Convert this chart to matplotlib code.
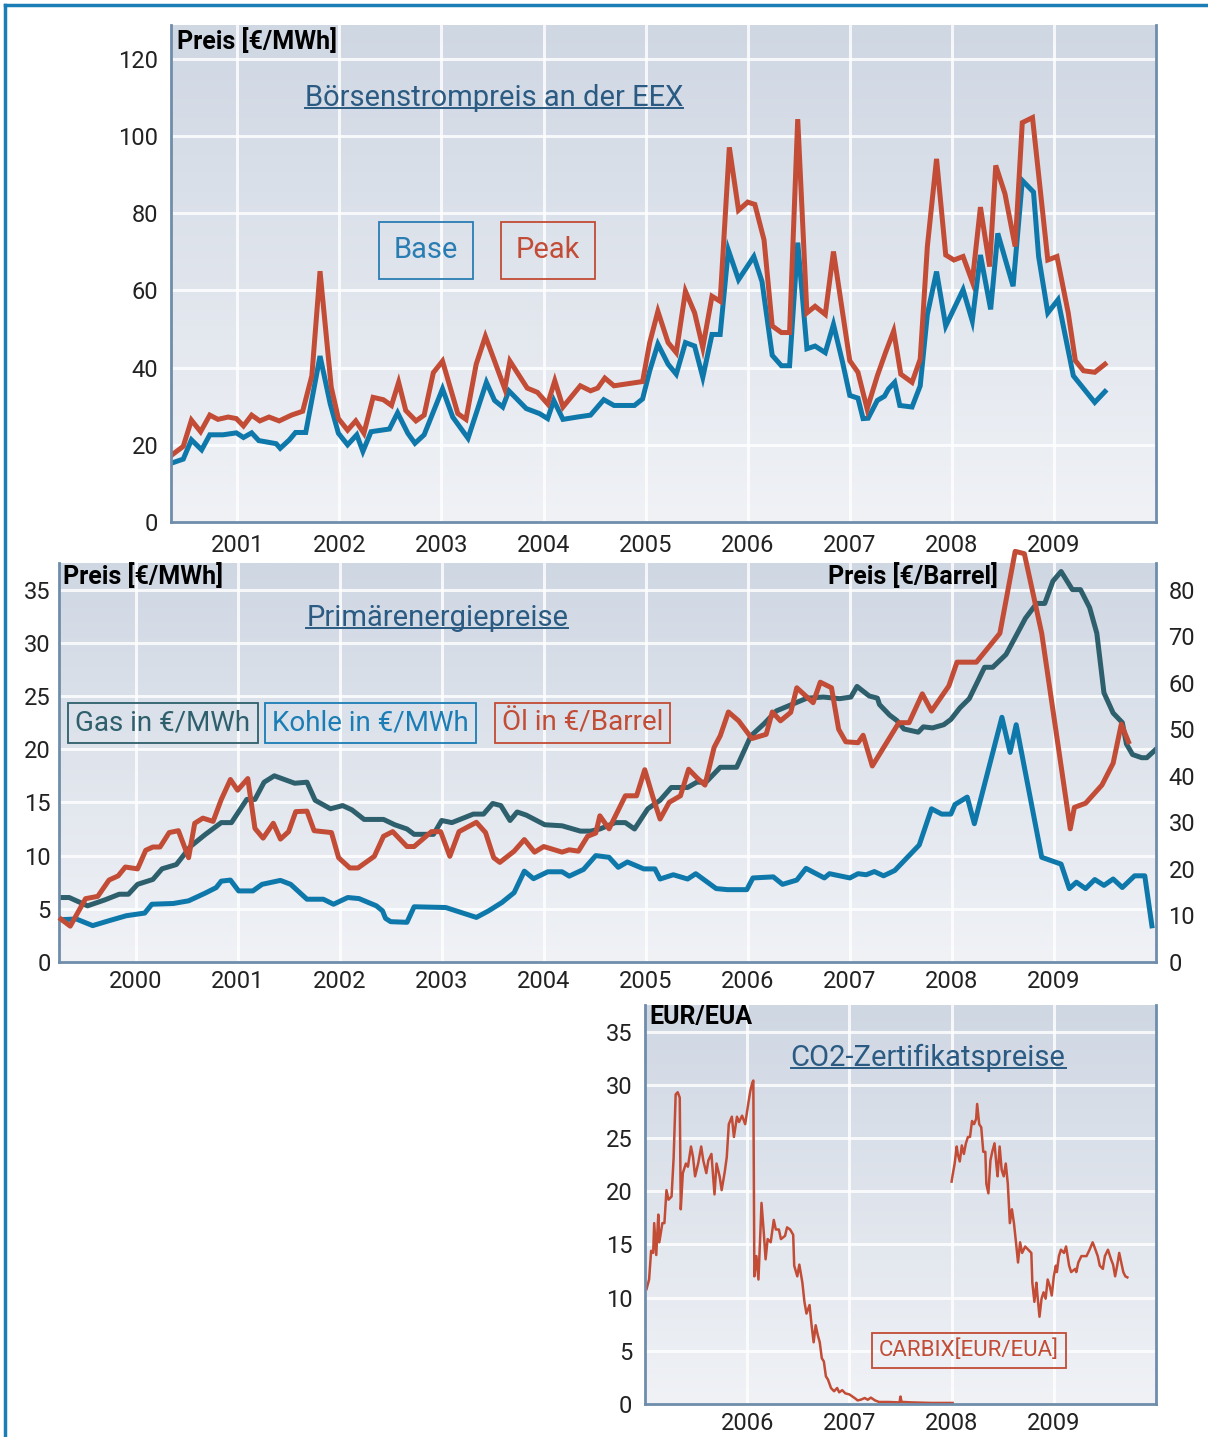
import numpy as np
import matplotlib.pyplot as plt
from matplotlib.lines import Line2D
from matplotlib.colors import LinearSegmentedColormap

plt.rcParams['font.family'] = ['Roboto', 'DejaVu Sans']

# ---------------- Daten: Börsenstrompreis an der EEX ----------------
base_t = [2000.36, 2000.47, 2000.55, 2000.65, 2000.73, 2000.86, 2000.99, 2001.06, 2001.14, 2001.21,
          2001.38, 2001.42, 2001.51, 2001.57, 2001.67, 2001.81, 2001.91, 2001.99, 2002.08, 2002.17,
          2002.23, 2002.31, 2002.49, 2002.57, 2002.67, 2002.74, 2002.83, 2003.01, 2003.11, 2003.26,
          2003.44, 2003.52, 2003.60, 2003.66, 2003.83, 2003.96, 2004.04, 2004.10, 2004.19, 2004.33,
          2004.46, 2004.59, 2004.69, 2004.89, 2004.97, 2005.04, 2005.12, 2005.22, 2005.30, 2005.39,
          2005.48, 2005.56, 2005.65, 2005.73, 2005.81, 2005.91, 2006.06, 2006.14, 2006.24, 2006.33,
          2006.41, 2006.49, 2006.58, 2006.66, 2006.76, 2006.84, 2006.93, 2007.00, 2007.08, 2007.13,
          2007.18, 2007.27, 2007.34, 2007.38, 2007.44, 2007.49, 2007.61, 2007.69, 2007.76, 2007.85,
          2007.94, 2008.11, 2008.20, 2008.28, 2008.38, 2008.45, 2008.60, 2008.69, 2008.80, 2008.85,
          2008.94, 2009.04, 2009.19, 2009.40, 2009.50]
base_v = [15.3, 16.3, 21.3, 18.7, 22.6, 22.6, 23.1, 21.9, 23.1, 21.1,
          20.3, 19.1, 21.3, 23.2, 23.2, 43.0, 30.6, 23.0, 20.0, 22.6,
          18.3, 23.4, 24.1, 28.3, 23.0, 20.4, 22.6, 34.5, 27.2, 21.7,
          36.2, 31.5, 29.8, 34.0, 29.4, 28.1, 26.8, 31.5, 26.6, 27.2,
          27.7, 31.7, 30.2, 30.2, 31.9, 39.2, 46.1, 40.9, 38.3, 46.5,
          45.6, 37.5, 48.6, 48.6, 70.5, 62.8, 68.8, 62.3, 43.2, 40.5,
          40.5, 72.4, 44.9, 45.6, 43.9, 51.2, 41.3, 32.8, 32.1, 26.8,
          26.9, 31.5, 32.6, 34.5, 36.2, 30.2, 29.8, 35.3, 53.8, 64.9,
          50.8, 60.2, 52.1, 69.2, 55.1, 74.8, 61.1, 88.5, 85.5, 68.8,
          54.2, 57.6, 37.9, 31.0, 33.8]

peak_t = [2000.36, 2000.47, 2000.55, 2000.64, 2000.73, 2000.81, 2000.91, 2000.99, 2001.06, 2001.14,
          2001.22, 2001.31, 2001.41, 2001.53, 2001.64, 2001.73, 2001.81, 2001.92, 2001.99, 2002.08,
          2002.16, 2002.24, 2002.33, 2002.43, 2002.51, 2002.58, 2002.65, 2002.75, 2002.83, 2002.92,
          2003.01, 2003.16, 2003.24, 2003.34, 2003.43, 2003.52, 2003.62, 2003.67, 2003.84, 2003.94,
          2004.04, 2004.11, 2004.19, 2004.36, 2004.46, 2004.53, 2004.60, 2004.69, 2004.97, 2005.04,
          2005.12, 2005.22, 2005.30, 2005.39, 2005.48, 2005.56, 2005.65, 2005.73, 2005.82, 2005.91,
          2006.00, 2006.07, 2006.16, 2006.24, 2006.33, 2006.41, 2006.49, 2006.58, 2006.66, 2006.76,
          2006.84, 2007.00, 2007.08, 2007.17, 2007.27, 2007.35, 2007.43, 2007.50, 2007.61, 2007.69,
          2007.76, 2007.85, 2007.94, 2008.02, 2008.11, 2008.20, 2008.28, 2008.37, 2008.43, 2008.52,
          2008.62, 2008.69, 2008.79, 2008.94, 2009.03, 2009.14, 2009.21, 2009.29, 2009.40, 2009.50]
peak_v = [17.4, 19.6, 26.4, 23.4, 27.7, 26.6, 27.2, 26.8, 24.9, 27.7,
          26.2, 27.2, 26.2, 27.7, 28.7, 37.9, 65.0, 34.9, 26.8, 23.8,
          26.2, 23.0, 32.3, 31.7, 30.2, 36.2, 28.9, 26.2, 27.7, 38.7,
          41.7, 28.1, 26.6, 40.9, 48.1, 41.7, 34.5, 41.7, 34.7, 33.6,
          30.6, 36.6, 29.8, 35.3, 34.0, 34.7, 37.3, 35.3, 36.4, 46.5,
          54.6, 46.5, 43.9, 59.8, 54.2, 45.2, 58.5, 57.2, 97.1, 80.8,
          82.9, 82.3, 73.1, 50.8, 49.1, 49.1, 104.4, 54.2, 55.9, 53.8,
          70.1, 41.8, 38.8, 29.3, 37.9, 43.9, 49.5, 38.3, 36.2, 42.2,
          71.4, 94.1, 69.2, 67.9, 68.8, 62.3, 81.6, 66.2, 92.4, 85.1,
          71.4, 103.5, 104.8, 67.9, 68.8, 54.2, 41.8, 39.2, 38.8, 40.9]

# ---------------- Daten: Primärenergiepreise ----------------
gas_t = [1999.27, 1999.35, 1999.53, 1999.70, 1999.84, 1999.93, 2000.02, 2000.17, 2000.26, 2000.40,
         2000.54, 2000.68, 2000.84, 2000.94, 2001.09, 2001.17, 2001.26, 2001.36, 2001.56, 2001.68,
         2001.76, 2001.91, 2002.03, 2002.12, 2002.24, 2002.43, 2002.54, 2002.66, 2002.73, 2002.92,
         2003.00, 2003.10, 2003.31, 2003.41, 2003.50, 2003.58, 2003.67, 2003.74, 2003.83, 2004.01,
         2004.18, 2004.36, 2004.46, 2004.55, 2004.70, 2004.80, 2004.89, 2005.02, 2005.14, 2005.25,
         2005.41, 2005.50, 2005.59, 2005.73, 2005.89, 2006.03, 2006.16, 2006.28, 2006.43, 2006.58,
         2006.74, 2006.90, 2007.01, 2007.07, 2007.19, 2007.27, 2007.29, 2007.39, 2007.46, 2007.53,
         2007.67, 2007.72, 2007.81, 2007.92, 2007.99, 2008.08, 2008.17, 2008.32, 2008.40, 2008.53,
         2008.62, 2008.72, 2008.83, 2008.91, 2008.99, 2009.07, 2009.18, 2009.26, 2009.35, 2009.42,
         2009.49, 2009.58, 2009.67, 2009.71, 2009.77, 2009.86, 2009.91, 2010.00]
gas_v = [6.06, 6.06, 5.28, 5.84, 6.37, 6.37, 7.3, 7.76, 8.76, 9.16,
         10.87, 11.96, 13.1, 13.1, 15.28, 15.28, 16.9, 17.5, 16.8, 16.9,
         15.2, 14.4, 14.7, 14.3, 13.4, 13.4, 12.9, 12.5, 12.0, 12.0,
         13.3, 13.1, 13.9, 13.9, 14.9, 14.7, 13.3, 14.1, 13.8, 12.9,
         12.8, 12.3, 12.3, 12.5, 13.1, 13.1, 12.5, 14.4, 15.2, 16.4,
         16.4, 16.9, 16.9, 18.3, 18.3, 21.25, 22.4, 23.6, 24.2, 24.8,
         24.9, 24.75, 24.9, 25.9, 25.0, 24.8, 24.2, 23.2, 22.7, 21.9,
         21.6, 22.1, 22.0, 22.3, 22.8, 23.9, 24.75, 27.7, 27.7, 28.9,
         30.5, 32.3, 33.7, 33.7, 35.8, 36.7, 35.0, 35.0, 33.3, 30.9,
         25.3, 23.4, 22.5, 20.5, 19.5, 19.2, 19.2, 20.0]

kohle_t = [1999.27, 1999.42, 1999.58, 1999.74, 1999.91, 2000.09, 2000.16, 2000.37, 2000.52, 2000.68,
           2000.79, 2000.84, 2000.93, 2001.01, 2001.15, 2001.24, 2001.42, 2001.52, 2001.68, 2001.84,
           2001.94, 2002.08, 2002.19, 2002.36, 2002.42, 2002.45, 2002.50, 2002.66, 2002.73, 2003.04,
           2003.34, 2003.46, 2003.59, 2003.71, 2003.81, 2003.90, 2004.04, 2004.18, 2004.25, 2004.39,
           2004.51, 2004.64, 2004.73, 2004.82, 2004.98, 2005.09, 2005.14, 2005.27, 2005.41, 2005.49,
           2005.69, 2005.80, 2005.99, 2006.05, 2006.25, 2006.34, 2006.48, 2006.57, 2006.75, 2006.80,
           2007.00, 2007.08, 2007.16, 2007.24, 2007.33, 2007.44, 2007.56, 2007.68, 2007.80, 2007.90,
           2007.99, 2008.03, 2008.15, 2008.22, 2008.49, 2008.57, 2008.63, 2008.88, 2009.07, 2009.15,
           2009.22, 2009.31, 2009.40, 2009.49, 2009.58, 2009.67, 2009.79, 2009.89, 2009.96]
kohle_v = [3.98, 4.04, 3.42, 3.88, 4.35, 4.6, 5.43, 5.5, 5.75, 6.46,
           6.99, 7.6, 7.7, 6.68, 6.68, 7.3, 7.67, 7.3, 5.9, 5.9,
           5.43, 6.06, 5.96, 5.28, 4.81, 4.1, 3.79, 3.73, 5.19, 5.12,
           4.19, 4.81, 5.59, 6.52, 8.54, 7.83, 8.48, 8.48, 8.07, 8.7,
           10.0, 9.84, 8.9, 9.4, 8.75, 8.75, 7.8, 8.2, 7.8, 8.3,
           6.9, 6.8, 6.8, 7.9, 8.0, 7.3, 7.7, 8.8, 7.9, 8.3,
           7.9, 8.3, 8.2, 8.5, 8.1, 8.6, 9.8, 11.0, 14.4, 13.9,
           13.9, 14.8, 15.5, 13.0, 23.0, 19.7, 22.3, 9.84, 9.2, 6.9,
           7.5, 6.9, 7.75, 7.2, 7.8, 7.0, 8.1, 8.1, 3.4]

oel_t = [1999.27, 1999.36, 1999.51, 1999.63, 1999.74, 1999.83, 1999.90, 2000.02, 2000.10, 2000.17,
         2000.24, 2000.33, 2000.42, 2000.52, 2000.58, 2000.66, 2000.76, 2000.84, 2000.93, 2001.00,
         2001.10, 2001.17, 2001.25, 2001.35, 2001.42, 2001.50, 2001.57, 2001.68, 2001.75, 2001.92,
         2001.99, 2002.10, 2002.18, 2002.34, 2002.43, 2002.52, 2002.66, 2002.73, 2002.90, 2002.99,
         2003.08, 2003.17, 2003.34, 2003.43, 2003.51, 2003.57, 2003.71, 2003.81, 2003.91, 2004.00,
         2004.18, 2004.25, 2004.34, 2004.43, 2004.51, 2004.55, 2004.64, 2004.80, 2004.91, 2004.99,
         2005.07, 2005.14, 2005.23, 2005.34, 2005.42, 2005.50, 2005.58, 2005.67, 2005.73, 2005.81,
         2005.91, 2006.04, 2006.18, 2006.24, 2006.32, 2006.42, 2006.48, 2006.64, 2006.71, 2006.82,
         2006.89, 2006.96, 2007.08, 2007.13, 2007.22, 2007.48, 2007.58, 2007.71, 2007.80, 2007.97,
         2008.05, 2008.24, 2008.47, 2008.62, 2008.71, 2008.88, 2009.16, 2009.20, 2009.31, 2009.47,
         2009.58, 2009.66, 2009.73]
oel_v = [9.2, 7.7, 13.6, 14.1, 17.6, 18.5, 20.4, 20.0, 24.0, 24.7,
         24.7, 27.8, 28.2, 22.4, 29.8, 30.9, 30.2, 34.9, 39.2, 36.9,
         39.4, 28.7, 26.6, 29.8, 26.4, 28.0, 32.3, 32.4, 28.2, 27.8,
         22.4, 20.2, 20.2, 22.7, 27.0, 28.0, 24.8, 24.8, 28.0, 28.0,
         22.7, 28.0, 30.0, 27.8, 22.4, 21.4, 23.8, 26.3, 23.6, 24.8,
         23.6, 24.1, 23.8, 27.0, 27.7, 31.4, 28.6, 35.7, 35.7, 41.3,
         35.4, 30.7, 34.3, 35.7, 41.4, 39.6, 38.0, 46.1, 48.6, 53.7,
         51.8, 48.0, 48.9, 53.7, 51.8, 53.6, 58.9, 55.7, 60.1, 58.9,
         50.0, 47.3, 47.1, 48.7, 42.1, 51.4, 51.4, 57.6, 53.9, 59.3,
         64.4, 64.4, 70.6, 88.2, 87.7, 70.6, 28.6, 33.2, 34.1, 38.0,
         42.7, 51.1, 47.3]

# ---------------- Daten: CO2-Zertifikatspreise (CARBIX) ----------------
co2_t1 = [2005.015, 2005.04, 2005.06, 2005.08, 2005.09, 2005.11, 2005.13, 2005.14, 2005.17, 2005.19,
          2005.21, 2005.23, 2005.26, 2005.28, 2005.30, 2005.32, 2005.34, 2005.35, 2005.37, 2005.40,
          2005.42, 2005.45, 2005.47, 2005.49, 2005.52, 2005.55, 2005.57, 2005.60, 2005.62, 2005.65,
          2005.68, 2005.70, 2005.73, 2005.75, 2005.78, 2005.80, 2005.82, 2005.85, 2005.87, 2005.90,
          2005.92, 2005.95, 2005.98, 2006.01, 2006.03, 2006.05, 2006.06, 2006.07, 2006.09, 2006.11,
          2006.13, 2006.14, 2006.16, 2006.18, 2006.20, 2006.23, 2006.26, 2006.28, 2006.31, 2006.33,
          2006.37, 2006.39, 2006.42, 2006.45, 2006.46, 2006.49, 2006.51, 2006.54, 2006.56, 2006.58,
          2006.61, 2006.63, 2006.65, 2006.67, 2006.69, 2006.71, 2006.73, 2006.75, 2006.77, 2006.79,
          2006.82, 2006.85, 2006.88, 2006.90, 2006.93, 2006.96, 2007.00, 2007.03, 2007.06, 2007.08,
          2007.11, 2007.15, 2007.18, 2007.21, 2007.25, 2007.29, 2007.38, 2007.49, 2007.50, 2007.51,
          2007.61, 2007.80, 2008.01]
co2_v1 = [10.8, 11.7, 14.4, 14.2, 17.0, 14.0, 17.8, 15.2, 17.0, 17.0,
          20.1, 19.2, 19.5, 23.1, 29.1, 29.3, 28.8, 18.3, 21.7, 22.6,
          22.3, 24.2, 23.2, 21.4, 22.6, 24.2, 22.9, 21.7, 22.9, 23.5,
          19.7, 22.6, 21.4, 20.1, 21.8, 23.2, 26.3, 27.0, 25.1, 27.0,
          26.5, 27.1, 26.3, 28.2, 29.4, 30.2, 30.4, 12.0, 13.9, 11.7,
          16.4, 18.9, 16.4, 13.6, 15.5, 15.2, 17.3, 16.4, 16.4, 15.5,
          15.8, 16.6, 16.4, 15.9, 13.0, 12.0, 13.1, 11.4, 9.6, 8.5,
          9.3, 7.4, 5.8, 7.4, 6.5, 5.8, 4.3, 4.0, 2.6, 2.3,
          1.5, 1.2, 1.5, 1.1, 1.3, 1.0, 0.9, 0.7, 0.5, 0.34,
          0.4, 0.56, 0.4, 0.6, 0.34, 0.19, 0.19, 0.15, 0.7, 0.2,
          0.15, 0.1, 0.1]

co2_t2 = [2008.00, 2008.01, 2008.03, 2008.05, 2008.06, 2008.08, 2008.10, 2008.12, 2008.14, 2008.16,
          2008.18, 2008.20, 2008.22, 2008.24, 2008.25, 2008.27, 2008.29, 2008.31, 2008.33, 2008.34,
          2008.36, 2008.38, 2008.40, 2008.42, 2008.44, 2008.45, 2008.47, 2008.49, 2008.51, 2008.53,
          2008.55, 2008.57, 2008.59, 2008.61, 2008.63, 2008.65, 2008.67, 2008.69, 2008.72, 2008.75,
          2008.78, 2008.79, 2008.81, 2008.83, 2008.84, 2008.86, 2008.88, 2008.90, 2008.92, 2008.94,
          2008.96, 2008.98, 2009.00, 2009.02, 2009.03, 2009.05, 2009.07, 2009.10, 2009.12, 2009.15,
          2009.17, 2009.21, 2009.22, 2009.24, 2009.27, 2009.29, 2009.32, 2009.35, 2009.38, 2009.40,
          2009.43, 2009.45, 2009.48, 2009.50, 2009.53, 2009.56, 2009.58, 2009.60, 2009.62, 2009.64,
          2009.66, 2009.68, 2009.70, 2009.72]
co2_v2 = [20.9, 21.5, 22.6, 24.2, 23.5, 22.8, 24.3, 23.5, 24.5, 25.1,
          25.1, 26.6, 26.3, 26.8, 28.2, 26.3, 26.0, 23.7, 23.7, 20.7,
          19.8, 22.9, 23.8, 24.5, 22.3, 21.4, 24.2, 22.0, 21.4, 22.6,
          20.7, 17.0, 18.3, 17.0, 15.2, 13.3, 15.2, 14.2, 14.8, 14.5,
          14.2, 11.4, 9.6, 11.4, 10.2, 8.2, 9.9, 10.5, 9.9, 11.7,
          11.1, 10.2, 12.0, 13.0, 12.4, 13.9, 14.5, 14.2, 14.8, 13.0,
          12.4, 12.7, 12.4, 13.3, 13.9, 13.9, 13.9, 14.5, 15.2, 14.7,
          13.9, 13.0, 12.7, 13.9, 14.5, 13.6, 13.1, 12.0, 13.0, 14.2,
          13.3, 12.4, 12.0, 11.9]

# Farben
BLUE = '#0e78ab'
RED = '#c24c35'
TEAL = '#2e5f6c'
TITLE = '#2b5b82'
SPINE = '#6f8dab'
TXT = '#222222'

W, H = 1208, 1437
fig = plt.figure(figsize=(W / 100, H / 100), dpi=100)
cmap = LinearSegmentedColormap.from_list('bg', ['#f0f2f6', '#cfd7e3'])


def panel(left, top, right, bottom, spines):
    rect = [left / W, 1 - bottom / H, (right - left) / W, (bottom - top) / H]
    bg = fig.add_axes(rect, zorder=0)
    bg.imshow(np.linspace(0, 1, 256).reshape(-1, 1), aspect='auto', cmap=cmap,
              origin='lower', extent=[0, 1, 0, 1])
    bg.axis('off')
    ax = fig.add_axes(rect, zorder=1)
    ax.patch.set_alpha(0)
    for s in ['left', 'right', 'top', 'bottom']:
        ax.spines[s].set_visible(s in spines)
        ax.spines[s].set_color(SPINE)
        ax.spines[s].set_linewidth(2)
    ax.set_axisbelow(True)
    ax.grid(True, color='white', lw=2.2, alpha=0.8)
    ax.tick_params(length=0, labelsize=17, colors=TXT, pad=9)
    return ax


def underline(t):
    fig.canvas.draw()
    bb = t.get_window_extent()
    y = bb.y0 + 0.16 * bb.height
    fig.add_artist(Line2D([bb.x0 / W, bb.x1 / W], [y / H, y / H], color=TITLE, lw=1.4, zorder=5))


def boxtext(ax, x, y, s, color, size, pad):
    ax.text(x, y, s, transform=ax.transAxes, ha='center', va='center', fontsize=size,
            color=color, zorder=6,
            bbox=dict(boxstyle='square,pad=%s' % pad, fc='none', ec=color, lw=1.3))


# ---------------- Oben: EEX ----------------
ax1 = panel(171, 25, 1156, 522, ['left', 'bottom', 'right'])
ax1.plot(base_t, base_v, color=BLUE, lw=3.6, solid_joinstyle='miter')
ax1.plot(peak_t, peak_v, color=RED, lw=3.6, solid_joinstyle='miter')
ax1.set_xlim(2000.35, 2010.0)
ax1.set_ylim(0, 128.8)
ax1.set_xticks(range(2001, 2010))
ax1.set_yticks(range(0, 121, 20))
ax1.text(0.006, 0.968, 'Preis [€/MWh]', transform=ax1.transAxes, fontsize=18,
         fontweight='bold', color='black', va='center', ha='left')
t1 = ax1.text(0.328, 0.853, 'Börsenstrompreis an der EEX', transform=ax1.transAxes,
              fontsize=21, color=TITLE, ha='center', va='center')
boxtext(ax1, 0.259, 0.547, 'Base', '#2a7db3', 21, 0.5)
boxtext(ax1, 0.383, 0.547, 'Peak', RED, 21, 0.5)

# ---------------- Mitte: Primärenergie ----------------
ax2 = panel(59, 563, 1156, 962, ['left', 'bottom', 'right'])
ax2.plot(gas_t, gas_v, color=TEAL, lw=3.6)
ax2.plot(kohle_t, kohle_v, color=BLUE, lw=3.6)
ax2.set_xlim(1999.25, 2010.0)
ax2.set_ylim(0, 37.5)
ax2.set_xticks(range(2000, 2010))
ax2.set_yticks(range(0, 36, 5))
ax2.tick_params(axis='x', pad=6)
ax2.tick_params(axis='y', pad=6)
ax2r = ax2.twinx()
ax2r.set_zorder(2)
ax2r.patch.set_visible(False)
for s in ax2r.spines.values():
    s.set_visible(False)
ax2r.plot(oel_t, oel_v, color=RED, lw=3.6, clip_on=False)
ax2r.set_ylim(0, 85.7)
ax2r.set_yticks(range(0, 81, 10))
ax2r.tick_params(length=0, labelsize=17, colors=TXT, pad=9)
ax2.text(0.004, 0.967, 'Preis [€/MWh]', transform=ax2.transAxes, fontsize=18,
         fontweight='bold', color='black', va='center', ha='left')
ax2.text(0.856, 0.967, 'Preis [€/Barrel]', transform=ax2.transAxes, fontsize=18,
         fontweight='bold', color='black', va='center', ha='right', zorder=6)
t2 = ax2.text(0.345, 0.862, 'Primärenergiepreise', transform=ax2.transAxes,
              fontsize=21, color=TITLE, ha='center', va='center')
boxtext(ax2, 0.0948, 0.599, 'Gas in €/MWh', TEAL, 20, 0.25)
boxtext(ax2, 0.284, 0.599, 'Kohle in €/MWh', '#1a7db5', 20, 0.25)
boxtext(ax2, 0.477, 0.599, 'Öl in €/Barrel', RED, 20, 0.25)

# ---------------- Unten: CO2 ----------------
ax3 = panel(645, 1005, 1156, 1404, ['left', 'bottom', 'right'])
ax3.plot(co2_t1, co2_v1, color=RED, lw=1.8)
ax3.plot(co2_t2, co2_v2, color=RED, lw=1.8)
ax3.set_xlim(2005.0, 2010.0)
ax3.set_ylim(0, 37.5)
ax3.set_xticks(range(2006, 2010))
ax3.set_yticks(range(0, 36, 5))
ax3.tick_params(axis='x', pad=6)
ax3.text(0.008, 0.97, 'EUR/EUA', transform=ax3.transAxes, fontsize=18,
         fontweight='bold', color='black', va='center', ha='left')
t3 = ax3.text(0.554, 0.867, 'CO2-Zertifikatspreise', transform=ax3.transAxes,
              fontsize=21, color=TITLE, ha='center', va='center')
boxtext(ax3, 0.634, 0.135, 'CARBIX[EUR/EUA]', RED, 16, 0.3)

# Unterstreichungen der Titel
for t in (t1, t2, t3):
    underline(t)

# Rahmen links und oben
fig.add_artist(Line2D([5 / W, 5 / W], [0, 1 - 5 / H], color='#1a7db5', lw=2.5))
fig.add_artist(Line2D([5 / W, 1], [1 - 5 / H, 1 - 5 / H], color='#1a7db5', lw=2.5))

fig.savefig('out.png', dpi=100)
